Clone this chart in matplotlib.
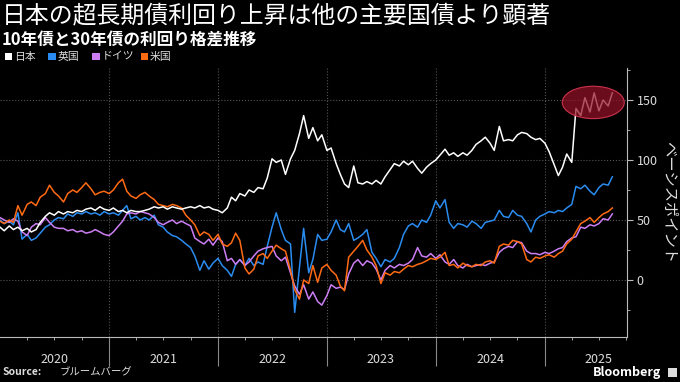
import numpy as np
import pandas as pd
import matplotlib
matplotlib.use("Agg")
import matplotlib.pyplot as plt
import matplotlib.dates as mdates
from matplotlib.patches import Ellipse, Rectangle

plt.rcParams['font.family'] = ['Noto Sans CJK JP', 'DejaVu Sans']

# semi-monthly observations, Jan 2020 - Aug 2025 (basis points, 30y minus 10y)
dates = pd.date_range('2020-01-01', periods=136, freq='SMS')

japan = [44, 41, 45, 42, 44, 41, 43, 40, 42, 48, 53, 56, 54, 57, 55, 57, 56, 58, 57, 59,
         60, 58, 61, 59, 58, 60, 57, 58, 56, 58, 57, 57, 58, 59, 61, 60, 61, 59, 61, 60,
         59, 60, 61, 60, 62, 60, 61, 59, 58, 56, 60, 69, 66, 72, 70, 75, 73, 77, 76, 85,
         101, 98, 100, 88, 101, 108, 122, 137, 118, 127, 116, 121, 108, 110, 97, 88, 80, 77, 95, 81,
         80, 82, 80, 83, 80, 86, 92, 97, 95, 99, 96, 99, 93, 89, 94, 97, 100, 104, 109, 104,
         106, 103, 106, 104, 108, 113, 116, 119, 114, 108, 128, 116, 117, 116, 121, 123, 122, 119, 117, 118,
         114, 107, 96, 87, 94, 105, 98, 143, 137, 152, 140, 156, 141, 150, 145, 156]

uk = [50, 47, 49, 46, 56, 34, 38, 33, 35, 39, 44, 46, 50, 52, 51, 55, 53, 56, 55, 57,
      55, 56, 54, 57, 55, 56, 54, 58, 62, 51, 53, 50, 52, 50, 54, 46, 44, 40, 37, 36,
      33, 30, 27, 20, 8, 16, 9, 14, 18, 12, 8, 3, 13, 17, 12, 18, 12, 15, 13, 28,
      44, 56, 42, 33, 30, -27, 10, 43, 6, 17, 38, 33, 34, 40, 50, 42, 40, 47, 33, 35,
      38, 42, 23, 18, 11, 17, 15, 18, 27, 38, 45, 47, 44, 50, 48, 54, 66, 60, 67, 48,
      43, 47, 46, 44, 49, 47, 43, 48, 49, 50, 58, 53, 52, 58, 54, 53, 47, 40, 50, 53,
      55, 57, 56, 58, 57, 60, 63, 78, 76, 79, 74, 71, 77, 80, 79, 86]

germany = [52, 50, 48, 51, 49, 40, 37, 44, 47, 46, 52, 48, 44, 43, 43, 41, 42, 40, 41, 39,
           40, 42, 40, 38, 37, 40, 45, 49, 55, 56, 55, 57, 56, 55, 52, 48, 46, 48, 50, 47,
           49, 47, 45, 35, 32, 30, 34, 29, 35, 32, 16, 18, 13, 17, 12, 15, 20, 24, 26, 27,
           28, 20, 16, 19, 6, -5, -12, -4, -16, -10, -18, -21, -13, -4, -7, -6, -8, 5, 14, 17,
           12, 16, 14, 9, 0, 8, 12, 10, 13, 12, 14, 17, 27, 20, 19, 22, 18, 21, 15, 13,
           17, 12, 10, 13, 11, 12, 13, 12, 14, 15, 23, 26, 28, 27, 32, 31, 24, 22, 22, 21,
           23, 22, 24, 26, 27, 32, 35, 36, 44, 43, 46, 45, 47, 51, 50, 55]

us = [49, 47, 50, 48, 62, 54, 63, 65, 62, 69, 72, 79, 73, 70, 65, 72, 75, 73, 77, 81,
      76, 71, 73, 74, 72, 75, 81, 84, 74, 70, 68, 71, 73, 70, 67, 63, 62, 61, 63, 62,
      60, 54, 50, 46, 37, 40, 38, 33, 38, 30, 28, 31, 39, 33, 10, 5, 9, 20, 22, 18,
      24, 29, 26, 24, 8, -8, -16, 0, -3, 12, -2, 10, 13, 8, 4, -5, -9, 19, 24, 28,
      33, 25, 19, 12, -3, 6, 4, 7, 6, 9, 12, 11, 13, 14, 16, 18, 17, 19, 23, 12,
      13, 10, 14, 12, 11, 13, 12, 15, 16, 14, 28, 30, 29, 33, 32, 30, 17, 15, 19, 18,
      20, 21, 19, 22, 24, 30, 34, 40, 47, 49, 52, 48, 52, 55, 57, 60]

names = ['日本', '英国', 'ドイツ', '米国']
colors = ['#ffffff', '#2a8cf0', '#cd7ef5', '#ff6a13']
years = [2020, 2021, 2022, 2023, 2024, 2025]

fig = plt.figure(figsize=(6.8, 3.82), dpi=100, facecolor='black')
ax = fig.add_axes([0.0, 0.118, 0.922, 0.704], facecolor='black')

for series, c in [(uk, colors[1]), (germany, colors[2]), (us, colors[3]), (japan, colors[0])]:
    ax.plot(dates, series, color=c, linewidth=1.1)

# highlight recent surge in Japan
ell = Ellipse((mdates.date2num(pd.Timestamp('2025-06-12')), 148), width=208, height=27,
              facecolor=(0.58, 0.07, 0.15, 0.72), edgecolor=(0.8, 0.2, 0.3), linewidth=0.8, zorder=5)
ax.add_patch(ell)

ax.set_xlim(pd.Timestamp('2020-01-01'), pd.Timestamp('2025-10-03'))
ax.set_ylim(-47.5, 176.7)

for s in ['top', 'left']:
    ax.spines[s].set_visible(False)
ax.spines['right'].set_color('#bbbbbb')
ax.spines['bottom'].set_color('#bbbbbb')

ax.yaxis.tick_right()
ax.set_yticks([0, 50, 100, 150])
ax.set_yticks([-25, 25, 75, 125, 175], minor=True)
ax.tick_params(axis='y', which='major', colors='#bbbbbb', labelcolor='#dddddd', labelsize=9, length=4, pad=3)
ax.tick_params(axis='y', which='minor', colors='#bbbbbb', length=2)

ax.set_xticks([pd.Timestamp(f'{y}-01-01') for y in years[1:]])
ax.set_xticks(pd.date_range('2020-04-01', '2025-10-01', freq='QS'), minor=True)
ax.tick_params(axis='x', which='major', colors='#888888', length=21, width=0.8, labelbottom=False)
ax.tick_params(axis='x', which='minor', colors='#bbbbbb', length=2.5)

for y in years:
    ax.text(pd.Timestamp(f'{y}-07-01'), -0.083, str(y), transform=ax.get_xaxis_transform(),
            ha='center', va='center', color='#dddddd', fontsize=9)

ax.grid(True, which='major', color='#555555', linestyle=':', linewidth=0.8)

ax.yaxis.set_label_position('right')
ax.set_ylabel('ベーシスポイント', rotation=270, color='#dddddd', fontsize=11, labelpad=14)

fig.text(0.002, 0.988, '日本の超長期債利回り上昇は他の主要国債より顕著', color='white', fontsize=17.2, va='top', ha='left')
fig.text(0.002, 0.92, '10年債と30年債の利回り格差推移', color='white', fontsize=12, fontweight='bold', va='top', ha='left')

lx = [0.007, 0.071, 0.136, 0.207]
for x0, name, c in zip(lx, names, colors):
    fig.patches.append(Rectangle((x0, 0.842), 0.011, 0.02, transform=fig.transFigure, facecolor=c, edgecolor='none'))
    fig.text(x0 + 0.013, 0.852, name, color='#dddddd', fontsize=7.8, va='center', ha='left')

fig.text(0.004, 0.012, 'Source:', color='#dddddd', fontsize=7.5, fontweight='bold', va='bottom', ha='left')
fig.text(0.088, 0.012, 'ブルームバーグ', color='#dddddd', fontsize=7.5, va='bottom', ha='left')
fig.text(0.972, 0.016, 'Bloomberg', color='white', fontsize=9, fontweight='bold', va='baseline', ha='right')
fig.patches.append(Rectangle((0.982, 0.012), 0.013, 0.024, transform=fig.transFigure, facecolor='#dddddd', edgecolor='none'))

fig.savefig('out.png', dpi=100, facecolor='black')
